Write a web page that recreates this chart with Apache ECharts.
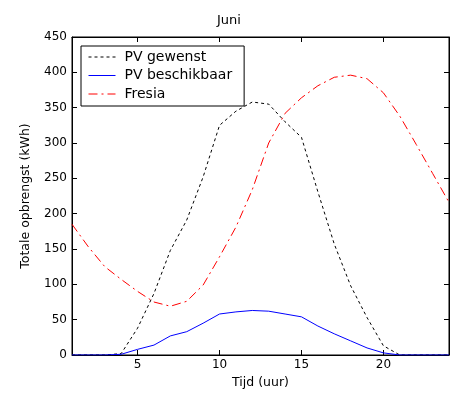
<!DOCTYPE html>
<html>
<head>
<meta charset="utf-8">
<script src="https://cdn.jsdelivr.net/npm/echarts@6/dist/echarts.min.js"></script>
<style>
html,body{margin:0;padding:0;background:#fff;}
#c{width:458px;height:399px;}
</style>
</head>
<body>
<div id="c"></div>
<script>
const hours = [1,2,3,4,5,6,7,8,9,10,11,12,13,14,15,16,17,18,19,20,21,22,23,24];
const pvGewenst = [0,0,0,2,38,87,148,191,252,325,345,358,355,330,308,231,157,98,53,13,0,0,0,0];
const pvBeschikbaar = [0,0,0,1,8,14,27,33,45,58,61,63,62,58,54,41,30,20,10,3,0,0,0,0];
const fresia = [185,153,125,107,90,75,69,76,99,139,181,234,300,342,364,381,393,396,391,371,338,298,257,216];
const xTicks = [5,10,15,20];
const seriesNames = ['PV gewenst','PV beschikbaar','Fresia'];
const FONT = 'DejaVu Sans';

function pairs(ys){ return hours.map((h,i)=>[h, ys[i]]); }

const chart = echarts.init(document.getElementById('c'), null, {renderer:'canvas'});
const axisLine = {show:true, onZero:false, lineStyle:{color:'#000', width:1}};
chart.setOption({
  backgroundColor:'#fff',
  animation:false,
  textStyle:{fontFamily:FONT, color:'#000'},
  title:{text:'Juni', left:'center', top:14, padding:0,
    textStyle:{fontFamily:FONT, fontSize:13, fontWeight:'normal', color:'#000'}},
  grid:{left:72, right:9, top:37, bottom:44, containLabel:false,
    show:true, borderColor:'#000', borderWidth:1, backgroundColor:'transparent'},
  legend:{
    orient:'vertical', left:81, top:46,
    data:seriesNames,
    backgroundColor:'#fff', borderColor:'#000', borderWidth:1,
    padding:[4,12,5,7],
    itemWidth:27, itemHeight:14, itemGap:4.5,
    itemStyle:{opacity:0},
    lineStyle:{width:1},
    textStyle:{fontFamily:FONT, fontSize:14, color:'#000', padding:[0,0,0,4]}
  },
  xAxis:[
    {type:'value', min:1, max:24, position:'bottom',
     axisLine:axisLine,
     axisTick:{show:true, inside:true, length:5, customValues:xTicks, lineStyle:{color:'#000'}},
     axisLabel:{show:true, customValues:xTicks, margin:4, fontFamily:FONT, fontSize:12, color:'#000'},
     splitLine:{show:false},
     name:'Tijd (uur)', nameLocation:'middle', nameGap:20,
     nameTextStyle:{fontFamily:FONT, fontSize:12.5, color:'#000'}},
    {type:'value', min:1, max:24, position:'top',
     axisLine:axisLine,
     axisTick:{show:true, inside:true, length:5, customValues:xTicks, lineStyle:{color:'#000'}},
     axisLabel:{show:false}, splitLine:{show:false}}
  ],
  yAxis:[
    {type:'value', min:0, max:450, interval:50, position:'left',
     axisLine:axisLine,
     axisTick:{show:true, inside:true, length:5, lineStyle:{color:'#000'}},
     axisLabel:{show:true, margin:5, fontFamily:FONT, fontSize:12, color:'#000'},
     splitLine:{show:false},
     name:'Totale opbrengst (kWh)', nameLocation:'middle', nameGap:40,
     nameTextStyle:{fontFamily:FONT, fontSize:12.5, color:'#000'}},
    {type:'value', min:0, max:450, interval:50, position:'right',
     axisLine:axisLine,
     axisTick:{show:true, inside:true, length:5, lineStyle:{color:'#000'}},
     axisLabel:{show:false}, splitLine:{show:false}}
  ],
  series:[
    {name:seriesNames[0], type:'line', data:pairs(pvGewenst), symbol:'none',
     lineStyle:{color:'#000', width:1, type:[3,3]}, itemStyle:{color:'#000'}},
    {name:seriesNames[1], type:'line', data:pairs(pvBeschikbaar), symbol:'none',
     lineStyle:{color:'#0000ff', width:1, type:'solid'}, itemStyle:{color:'#0000ff'}},
    {name:seriesNames[2], type:'line', data:pairs(fresia), symbol:'none',
     lineStyle:{color:'#ff0000', width:1, type:[9,4,2,4]}, itemStyle:{color:'#ff0000'}}
  ]
});
</script>
</body>
</html>
